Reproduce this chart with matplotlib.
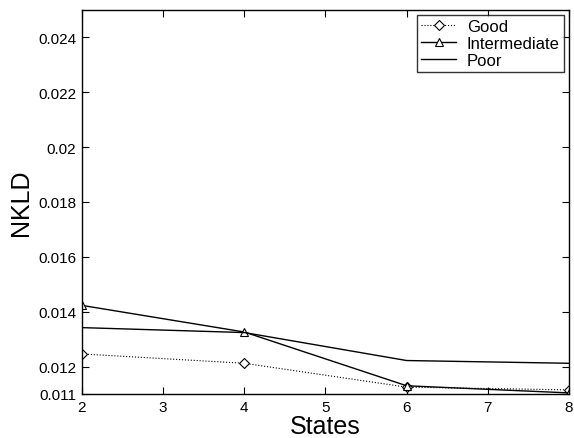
import matplotlib
matplotlib.use("Agg")
import matplotlib.pyplot as plt

states = [2, 4, 6, 8]
good = [0.01246, 0.01212, 0.01125, 0.01115]
intermediate = [0.01423, 0.01326, 0.01130, 0.01104]
poor = [0.01342, 0.01324, 0.01222, 0.01212]

xticks = [2, 3, 4, 5, 6, 7, 8]
yticks = [0.011, 0.012, 0.014, 0.016, 0.018, 0.020, 0.022, 0.024]
ytick_labels = ["0.011", "0.012", "0.014", "0.016", "0.018", "0.02", "0.022", "0.024"]

plt.rcParams["font.family"] = ["Liberation Sans", "DejaVu Sans"]

fig = plt.figure(figsize=(5.74, 4.39), dpi=100)
ax = fig.add_axes([82 / 574, 1 - 395 / 439, 487 / 574, 384 / 439])

ax.plot(states, good, color="black", linestyle=":", linewidth=0.8,
        marker="D", markersize=5, markerfacecolor="white", markeredgewidth=0.8,
        label="Good")
ax.plot(states, intermediate, color="black", linestyle="-", linewidth=1.0,
        marker="^", markersize=6, markerfacecolor="white", markeredgewidth=0.8,
        label="Intermediate")
ax.plot(states, poor, color="black", linestyle="-", linewidth=1.0, label="Poor")

ax.set_xlim(2, 8)
ax.set_ylim(0.011, 0.025)
ax.set_xticks(xticks)
ax.set_yticks(yticks)
ax.set_yticklabels(ytick_labels)
ax.tick_params(direction="in", top=True, right=True, labelsize=11, length=5, pad=4)
for s in ax.spines.values():
    s.set_linewidth(1.0)

ax.set_xlabel("States", fontsize=18, labelpad=0)
ax.set_ylabel("NKLD", fontsize=18, labelpad=4)

leg = ax.legend(loc="upper right", fontsize=12, frameon=True, fancybox=False,
                edgecolor="black", borderaxespad=0.3, handlelength=2.1,
                labelspacing=0.1, borderpad=0.25, handletextpad=0.65)
leg.get_frame().set_linewidth(1.0)

fig.savefig("out.png", dpi=100)
